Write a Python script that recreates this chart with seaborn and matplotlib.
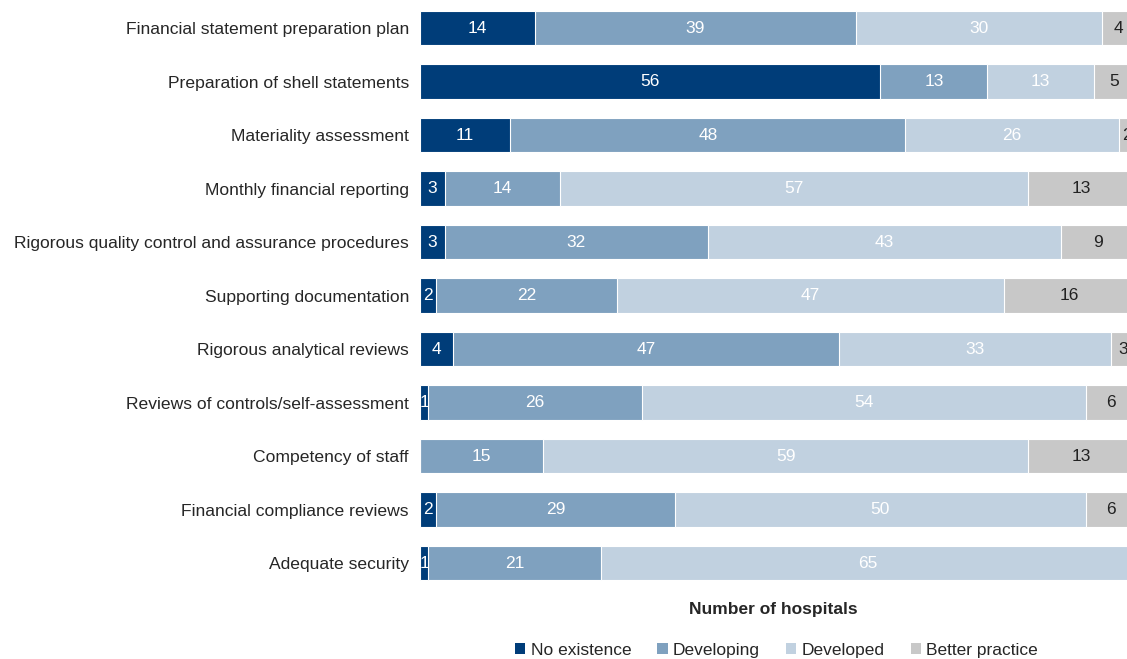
import numpy as np
import pandas as pd
import matplotlib
matplotlib.use("Agg")
import matplotlib.pyplot as plt
import seaborn as sns
from matplotlib.patches import Patch

# Data
categories = [
    "Financial statement preparation plan",
    "Preparation of shell statements",
    "Materiality assessment",
    "Monthly financial reporting",
    "Rigorous quality control and assurance procedures",
    "Supporting documentation",
    "Rigorous analytical reviews",
    "Reviews of controls/self-assessment",
    "Competency of staff",
    "Financial compliance reviews",
    "Adequate security",
]
no_existence = [14, 56, 11, 3, 3, 2, 4, 1, 0, 2, 1]
developing = [39, 13, 48, 14, 32, 22, 47, 26, 15, 29, 21]
developed = [30, 13, 26, 57, 43, 47, 33, 54, 59, 50, 65]
better_practice = [4, 5, 2, 13, 9, 16, 3, 6, 13, 6, 0]

series_names = ["No existence", "Developing", "Developed", "Better practice"]
colors = ["#003D79", "#7FA1BF", "#C1D1E0", "#C8C8C8"]
text_colors = ["white", "white", "white", "#222222"]

sns.set_style("white")
plt.rcParams["font.family"] = ["Liberation Sans", "DejaVu Sans"]

values = np.array([no_existence, developing, developed, better_practice])
cum = np.cumsum(values, axis=0)

fig = plt.figure(figsize=(11.27, 6.59), dpi=100)
ax = fig.add_axes([0.3727, 0.105, 0.6273, 0.893])

# stacked bars: draw cumulative totals from the last series to the first
for i in range(len(series_names) - 1, -1, -1):
    df = pd.DataFrame({"category": categories, "total": cum[i]})
    sns.barplot(data=df, x="total", y="category", orient="h", color=colors[i],
                saturation=1, width=0.65, edgecolor="white", linewidth=0.8, ax=ax)

# segment labels
for i in range(len(series_names)):
    for j, v in enumerate(values[i]):
        if v == 0:
            continue
        centre = cum[i][j] - v / 2
        ax.text(centre, j, str(v), ha="center", va="center", fontsize=12.5,
                color=text_colors[i], clip_on=False)

ax.set_xlim(0, 86)
ax.set_ylim(len(categories) - 0.5, -0.5)
ax.set_xticks([])
ax.set_ylabel("")
ax.set_xlabel("Number of hospitals", fontsize=12.5, fontweight="bold", labelpad=9)
ax.tick_params(axis="y", length=0, labelsize=12.6, pad=8)
sns.despine(ax=ax, left=True, bottom=True)

handles = [Patch(facecolor=c, edgecolor="none") for c in colors]
fig.legend(handles, series_names, loc="lower center", bbox_to_anchor=(0.689, -0.022),
           ncol=4, frameon=False, fontsize=12.5, handlelength=0.6, handleheight=0.6,
           handletextpad=0.3, columnspacing=1.5)

fig.savefig("out.png", dpi=100)
